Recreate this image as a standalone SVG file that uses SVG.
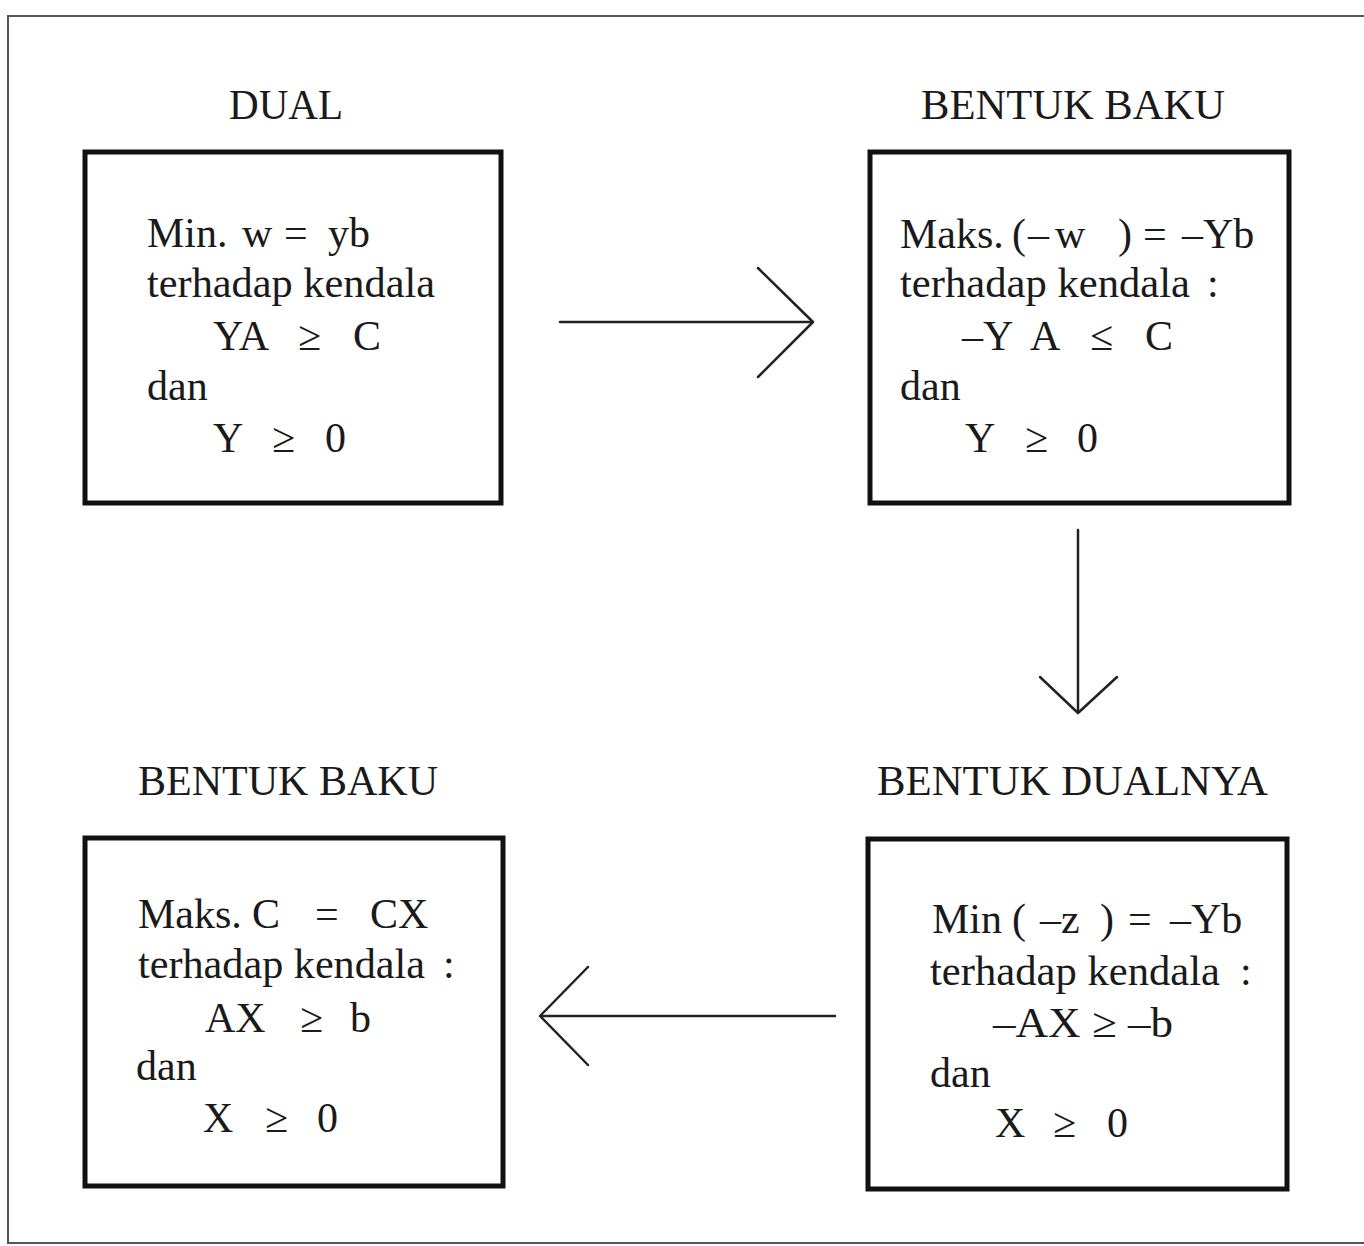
<svg xmlns="http://www.w3.org/2000/svg" width="1364" height="1246" viewBox="0 0 1364 1246">
<style>
  .frame{fill:none;stroke:#555;stroke-width:2}
  .box{fill:none;stroke:#111;stroke-width:5}
  .t{font-family:"Liberation Serif","Times New Roman",serif;font-size:42px;fill:#1a1a1a}
  .title{font-family:"Liberation Serif","Times New Roman",serif;font-size:42px;fill:#1a1a1a}
  .conn{fill:none;stroke:#222;stroke-width:2.5;stroke-linecap:round;stroke-linejoin:round}
</style>
<rect width="1364" height="1246" fill="#fff"/>
<rect class="frame" x="8" y="16" width="1400" height="1227"/>

<g id="node-dual">
  <text class="title" x="229" y="119" textLength="114" lengthAdjust="spacingAndGlyphs">DUAL</text>
  <rect class="box" x="85" y="152" width="416" height="351"/>
  <text class="t" y="247"><tspan x="147">Min.</tspan><tspan x="242">w</tspan><tspan x="284">=</tspan><tspan x="328">yb</tspan></text>
  <text class="t" x="147" y="297" textLength="288" lengthAdjust="spacingAndGlyphs">terhadap kendala</text>
  <text class="t" y="350"><tspan x="213">YA</tspan><tspan x="298">≥</tspan><tspan x="353">C</tspan></text>
  <text class="t" x="147" y="400">dan</text>
  <text class="t" y="452"><tspan x="213">Y</tspan><tspan x="272">≥</tspan><tspan x="325">0</tspan></text>
</g>

<g id="node-baku1">
  <text class="title" x="921" y="119" textLength="304" lengthAdjust="spacingAndGlyphs">BENTUK BAKU</text>
  <rect class="box" x="870" y="152" width="419" height="351"/>
  <text class="t" y="248"><tspan x="900">Maks.</tspan><tspan x="1012">(</tspan><tspan x="1028">–</tspan><tspan x="1055">w</tspan><tspan x="1118">)</tspan><tspan x="1143">=</tspan><tspan x="1182">–Yb</tspan></text>
  <text class="t" y="297"><tspan x="900" textLength="290" lengthAdjust="spacingAndGlyphs">terhadap kendala</tspan><tspan x="1207">:</tspan></text>
  <text class="t" y="350"><tspan x="962">–Y</tspan><tspan x="1030">A</tspan><tspan x="1090">≤</tspan><tspan x="1145">C</tspan></text>
  <text class="t" x="900" y="400">dan</text>
  <text class="t" y="452"><tspan x="965">Y</tspan><tspan x="1025">≥</tspan><tspan x="1077">0</tspan></text>
</g>

<g id="node-dualnya">
  <text class="title" x="877" y="795" textLength="391" lengthAdjust="spacingAndGlyphs">BENTUK DUALNYA</text>
  <rect class="box" x="868" y="839" width="419" height="350"/>
  <text class="t" y="933"><tspan x="932">Min</tspan><tspan x="1012">(</tspan><tspan x="1040">–z</tspan><tspan x="1100">)</tspan><tspan x="1128">=</tspan><tspan x="1170">–Yb</tspan></text>
  <text class="t" y="985"><tspan x="930" textLength="290" lengthAdjust="spacingAndGlyphs">terhadap kendala</tspan><tspan x="1240">:</tspan></text>
  <text class="t" x="993" y="1037" textLength="180" lengthAdjust="spacingAndGlyphs">–AX ≥ –b</text>
  <text class="t" x="930" y="1087">dan</text>
  <text class="t" y="1137"><tspan x="995">X</tspan><tspan x="1053">≥</tspan><tspan x="1107">0</tspan></text>
</g>

<g id="node-baku2">
  <text class="title" x="138" y="795" textLength="300" lengthAdjust="spacingAndGlyphs">BENTUK BAKU</text>
  <rect class="box" x="85" y="838" width="418" height="348"/>
  <text class="t" y="928"><tspan x="138">Maks.</tspan><tspan x="252">C</tspan><tspan x="315">=</tspan><tspan x="370">CX</tspan></text>
  <text class="t" y="978"><tspan x="138" textLength="287" lengthAdjust="spacingAndGlyphs">terhadap kendala</tspan><tspan x="443">:</tspan></text>
  <text class="t" y="1032"><tspan x="205">AX</tspan><tspan x="300">≥</tspan><tspan x="350">b</tspan></text>
  <text class="t" x="136" y="1080">dan</text>
  <text class="t" y="1132"><tspan x="203">X</tspan><tspan x="265">≥</tspan><tspan x="317">0</tspan></text>
</g>

<g id="connectors">
  <line class="conn" x1="560" y1="322" x2="812" y2="322"/>
  <polyline class="conn" points="758,268 813,322 758,377"/>
  <line class="conn" x1="1078" y1="530" x2="1078" y2="712"/>
  <polyline class="conn" points="1040,677 1078,713 1117,677"/>
  <line class="conn" x1="835" y1="1016" x2="541" y2="1016"/>
  <polyline class="conn" points="588,967 540,1016 588,1065"/>
</g>
</svg>
